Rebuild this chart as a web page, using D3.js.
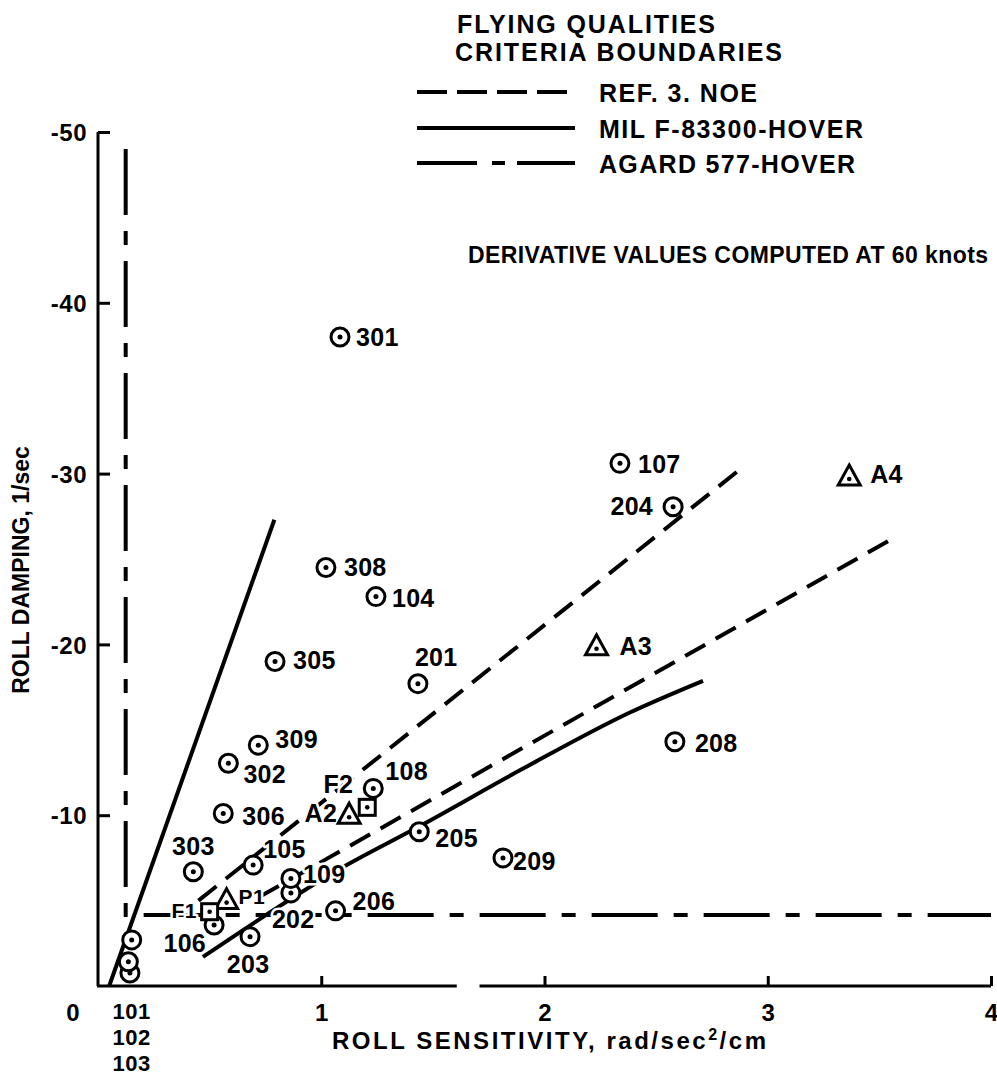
<!DOCTYPE html>
<html>
<head>
<meta charset="utf-8">
<script src="https://cdn.jsdelivr.net/npm/d3@7"></script>
<style>
  body { margin: 0; background: #fff; }
  svg text { font-family: "Liberation Sans", Arial, Helvetica, sans-serif; font-weight: bold; fill: #000; }
</style>
</head>
<body>
<svg id="chart" width="997" height="1077"></svg>
<script>
// Roll sensitivity (rad/sec^2/cm) against roll damping (1/sec) for each configuration.
const circleIds  = ["301","107","204","308","104","305","201","208","309","302","108","306",
                    "205","209","303","105","109","202","206","106","203","101","102","103"];
const circleSens = [1.084, 2.338, 2.576, 1.021, 1.245, 0.793, 1.433, 2.584, 0.718, 0.584, 1.233, 0.561,
                    1.439, 1.814, 0.427, 0.695, 0.864, 0.864, 1.064, 0.520, 0.681, 0.151, 0.136, 0.143];
const circleDamp = [-38.0, -30.6, -28.06, -24.5, -22.8, -19.0, -17.7, -14.3, -14.1, -13.04, -11.57, -10.1,
                    -9.03, -7.5, -6.69, -7.08, -6.3, -5.45, -4.4, -3.57, -2.89, -2.7, -1.42, -0.76];

const triangleIds  = ["A2", "A3", "A4", "P1"];
const triangleSens = [1.125, 2.233, 3.365, 0.576];
const triangleDamp = [-10.0, -19.86, -29.8, -5.0];

const squareIds  = ["F1", "F2"];
const squareSens = [0.50, 1.206];
const squareDamp = [-4.35, -10.46];

// Flying qualities criteria boundaries
const noeUpperSens = [0.45, 2.90];
const noeUpperDamp = [-5.0, -30.5];
const noeLowerSens = [0.72, 3.56];
const noeLowerDamp = [-5.19, -26.2];
const milSteepSens = [0.05, 0.79];
const milSteepDamp = [0, -27.3];
const milLowerSens = [0.47, 1.10, 1.44, 1.90, 2.38, 2.71];
const milLowerDamp = [-1.7, -6.98, -9.35, -12.7, -16.0, -17.87];
const agardSens = [0.124, 0.124, 4.0];
const agardDamp = [-49, -4.15, -4.15];

const xTicks = [1, 2, 3, 4];
const yTicks = [-10, -20, -30, -40, -50];
const axisBreak = [1.607, 1.709];

// Label placement beside each symbol: [dx, dy, anchor]
const labelPos = {
  "301": [16, 9, "start"],  "107": [18, 10, "start"], "204": [-20, 8, "end"],
  "308": [18, 8, "start"],  "104": [16, 10, "start"], "305": [18, 8, "start"],
  "201": [-3, -18, "start"],"208": [20, 10, "start"], "309": [17, 3, "start"],
  "302": [15, 20, "start"], "108": [12, -8, "start"], "306": [19, 12, "start"],
  "205": [16, 15, "start"], "209": [10, 12, "start"], "303": [0, -17, "middle"],
  "105": [10, -7, "start"], "109": [12, 5, "start"],  "202": [-19, 35, "start"],
  "206": [17, -1, "start"], "106": [-8, 27, "end"],   "203": [-2, 36, "middle"],
  "A2": [-12, 7, "end"],    "A3": [23, 8, "start"],   "A4": [21, 6, "start"],
  "P1": [12, 3, "start"],   "F1": [-13, 6, "end"],    "F2": [-14, -14, "end"]
};
const smallLabels = new Set(["P1", "F1"]);
const belowAxis = ["101", "102", "103"];

const svg = d3.select("#chart");
const x = d3.scaleLinear().domain([0, 4]).range([98, 991]);
const y = d3.scaleLinear().domain([0, -50]).range([986, 132]);

// ---- axes ----
const axisG = svg.append("g");
const yAxis = d3.axisLeft(y).tickValues(yTicks).tickSizeInner(-12).tickSizeOuter(0)
  .tickPadding(11).tickFormat(d => String(d));
const gy = axisG.append("g").attr("transform", `translate(${x(0)},0)`).call(yAxis);
gy.select(".domain").remove();
gy.selectAll(".tick line").attr("stroke", "#000").attr("stroke-width", 3);
gy.selectAll(".tick text").style("font-size", "24px").style("letter-spacing", "0.5px").attr("dy", "0.36em");

const xAxis = d3.axisBottom(x).tickValues(xTicks).tickSizeInner(-10).tickSizeOuter(0)
  .tickFormat(d => String(d));
const gx = axisG.append("g").attr("transform", `translate(0,${y(0)})`).call(xAxis);
gx.select(".domain").remove();
gx.selectAll(".tick line").attr("stroke", "#000").attr("stroke-width", 3);
gx.selectAll(".tick text").style("font-size", "24px").attr("y", 35).attr("dy", null);

// axis lines (the horizontal one is broken near 1.65)
axisG.append("path")
  .attr("d", `M${x(0)},${y(-50)}V${y(0)}`)
  .attr("stroke", "#000").attr("stroke-width", 3).attr("fill", "none");
axisG.append("path")
  .attr("d", `M${x(0) - 1},${y(0)}H${x(axisBreak[0])}M${x(axisBreak[1])},${y(0)}H${x(4)}`)
  .attr("stroke", "#000").attr("stroke-width", 3).attr("fill", "none");

axisG.append("text").attr("x", x(0) - 25).attr("y", y(0) + 35)
  .attr("text-anchor", "middle").style("font-size", "24px").text("0");

// ---- boundary lines ----
const NOE_DASH = "23,12";
const AGARD_DASH = "66,16,14,16";
const lineGen = d3.line().x(d => x(d[0])).y(d => y(d[1]));
const curveGen = d3.line().x(d => x(d[0])).y(d => y(d[1])).curve(d3.curveMonotoneX);
const zip = (a, b) => a.map((v, i) => [v, b[i]]);
const bounds = svg.append("g").attr("fill", "none").attr("stroke", "#000").attr("stroke-width", 4);

bounds.append("path").attr("d", lineGen(zip(noeUpperSens, noeUpperDamp))).attr("stroke-dasharray", NOE_DASH);
bounds.append("path").attr("d", lineGen(zip(noeLowerSens, noeLowerDamp))).attr("stroke-dasharray", NOE_DASH);
bounds.append("path").attr("d", lineGen(zip(milSteepSens, milSteepDamp)));
bounds.append("path").attr("d", curveGen(zip(milLowerSens, milLowerDamp)));
bounds.append("path").attr("d", lineGen(zip(agardSens, agardDamp))).attr("stroke-dasharray", AGARD_DASH);

// ---- point labels (white halo masks the boundary lines behind them) ----
const labels = svg.append("g");
function addLabel(id, sx, sy) {
  const p = labelPos[id];
  if (!p) return;
  labels.append("text")
    .attr("x", x(sx) + p[0]).attr("y", y(sy) + p[1])
    .attr("text-anchor", p[2])
    .style("font-size", smallLabels.has(id) ? "21px" : "25px")
    .style("letter-spacing", "0.3px")
    .attr("stroke", "#fff").attr("stroke-width", 5).attr("stroke-linejoin", "round")
    .attr("paint-order", "stroke")
    .text(id);
}
circleIds.forEach((id, i) => addLabel(id, circleSens[i], circleDamp[i]));
triangleIds.forEach((id, i) => addLabel(id, triangleSens[i], triangleDamp[i]));
squareIds.forEach((id, i) => addLabel(id, squareSens[i], squareDamp[i]));

// configuration numbers for the points on the damping axis, stacked under it
const bx = x(circleSens[circleIds.indexOf("101")]);
belowAxis.forEach((id, k) => {
  labels.append("text").attr("x", bx).attr("y", y(0) + 33 + k * 26)
    .attr("text-anchor", "middle").style("font-size", "22px").style("letter-spacing", "0.5px")
    .text(id);
});

// ---- symbols ----
const marks = svg.append("g").attr("stroke", "#000").attr("stroke-width", 3).attr("fill", "#fff");
const circles = zip(circleSens, circleDamp).reverse();
circles.forEach(d => {
  const g = marks.append("g").attr("transform", `translate(${x(d[0])},${y(d[1])})`);
  g.append("circle").attr("r", 9);
  g.append("circle").attr("r", 2.5).attr("fill", "#000").attr("stroke", "none");
});
zip(triangleSens, triangleDamp).forEach(d => {
  const g = marks.append("g").attr("transform", `translate(${x(d[0])},${y(d[1])})`);
  g.append("path").attr("d", "M0,-12L11,8L-11,8Z").attr("stroke-linejoin", "miter");
  g.append("circle").attr("cy", 2).attr("r", 2.3).attr("fill", "#000").attr("stroke", "none");
});
zip(squareSens, squareDamp).forEach(d => {
  const g = marks.append("g").attr("transform", `translate(${x(d[0])},${y(d[1])})`);
  g.append("rect").attr("x", -8).attr("y", -8).attr("width", 16).attr("height", 16);
  g.append("circle").attr("r", 2.3).attr("fill", "#000").attr("stroke", "none");
});

// ---- axis titles ----
svg.append("text")
  .attr("transform", `translate(29,570) rotate(-90)`)
  .attr("text-anchor", "middle").style("font-size", "23px")
  .text("ROLL DAMPING, 1/sec");

const xt = svg.append("text").attr("x", 332).attr("y", 1049)
  .attr("textLength", 434).attr("lengthAdjust", "spacing")
  .style("font-size", "24px");
xt.append("tspan").text("ROLL SENSITIVITY, rad/sec");
xt.append("tspan").attr("dy", -9).style("font-size", "16px").text("2");
xt.append("tspan").attr("dy", 9).text("/cm");

// ---- header and legend ----
const head = svg.append("g");
head.append("text").attr("x", 457).attr("y", 33).attr("textLength", 258).attr("lengthAdjust", "spacing")
  .style("font-size", "25px").text("FLYING QUALITIES");
head.append("text").attr("x", 455).attr("y", 61).attr("textLength", 327).attr("lengthAdjust", "spacing")
  .style("font-size", "25px").text("CRITERIA BOUNDARIES");

const legendItems = [
  { label: "REF. 3. NOE", dash: "30,10", y: 92, len: 158 },
  { label: "MIL F-83300-HOVER", dash: null, y: 128, len: 264 },
  { label: "AGARD 577-HOVER", dash: "60,15,13,12", y: 163, len: 256 }
];
legendItems.forEach(it => {
  head.append("line").attr("x1", 417).attr("x2", 575).attr("y1", it.y).attr("y2", it.y)
    .attr("stroke", "#000").attr("stroke-width", 4)
    .attr("stroke-dasharray", it.dash);
  head.append("text").attr("x", 599).attr("y", it.y + 10)
    .attr("textLength", it.len).attr("lengthAdjust", "spacing")
    .style("font-size", "25px").text(it.label);
});

head.append("text").attr("x", 468).attr("y", 263).attr("textLength", 520).attr("lengthAdjust", "spacing")
  .style("font-size", "23px").text("DERIVATIVE VALUES COMPUTED AT 60 knots");
</script>
</body>
</html>
